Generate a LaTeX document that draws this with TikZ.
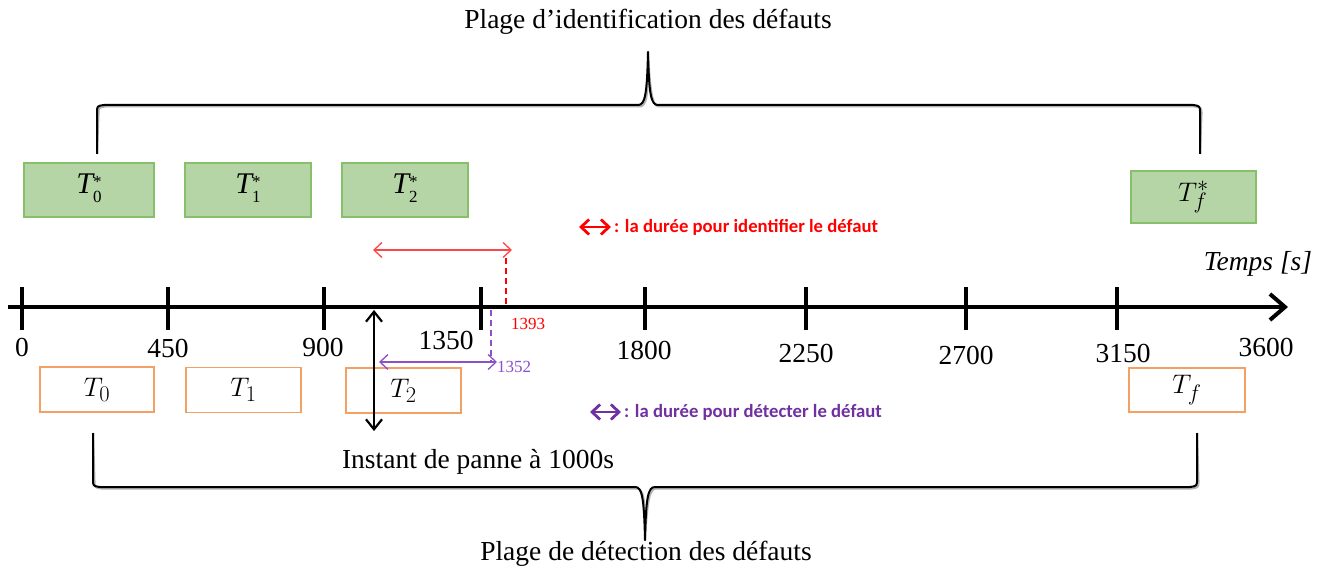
\documentclass[tikz,border=0pt]{standalone}
\usepackage{fontspec}
\setmainfont{Liberation Serif}
\newfontfamily\legendfont{Carlito}
\usetikzlibrary{arrows.meta}
\definecolor{gfill}{RGB}{181,213,166}
\definecolor{gbord}{RGB}{135,192,105}
\definecolor{obord}{RGB}{242,160,100}
\definecolor{redA}{RGB}{255,70,70}
\definecolor{redB}{RGB}{255,0,0}
\definecolor{purA}{RGB}{112,48,160}
\definecolor{purB}{RGB}{140,80,200}
\newcommand{\gstar}[1]{\itshape T\raisebox{-0.3em}{\upshape\fontsize{17}{13}\selectfont\begin{tabular}[b]{@{}l@{}}*\\#1\end{tabular}}}
\newcommand{\mth}[1]{\scalebox{1.08}{$#1$}}
\begin{document}
\begin{tikzpicture}[x=1pt,y=-1pt,
  greenbox/.style={draw=gbord,fill=gfill,line width=1.3pt,inner sep=0pt,
    font=\fontsize{30}{32}\selectfont},
  orangebox/.style={draw=obord,fill=white,line width=1.3pt,inner sep=0pt,
    font=\fontsize{24.88}{28}\selectfont},
  lbl/.style={inner sep=0pt,font=\fontsize{27.5}{30}\selectfont},
  small/.style={inner sep=0pt,font=\fontsize{17}{19}\selectfont},
  legend/.style={inner sep=0pt,anchor=west,font=\legendfont\bfseries\fontsize{18.7}{20}\selectfont},
  axisline/.style={line width=4pt,-{Straight Barb[length=15pt,width=26pt,line width=4pt]}},
  tickline/.style={line width=4pt},
  brace/.style={line width=2pt,line join=round},
  braceshadow/.style={line width=2pt,gray!60,line join=round},
  thinarrow/.style={line width=1.3pt,{Straight Barb[length=8pt,width=15pt]}-{Straight Barb[length=8pt,width=15pt]}},
  legarrow/.style={line width=2.8pt,{Straight Barb[length=8pt,width=15pt,line width=2.8pt]}-{Straight Barb[length=8pt,width=15pt,line width=2.8pt]}},
  dashline/.style={line width=2pt,dash pattern=on 6pt off 4pt}
]
\useasboundingbox (0,0) rectangle (1330,572);
\fill[white] (0,0) rectangle (1330,572);

% top brace
\coordinate (tbL) at (97,154);
\coordinate (tbR) at (1200,154);
\coordinate (tbT) at (648,52);
\foreach \d/\st in {1.5/braceshadow,0/brace}{
\draw[\st,shift={(\d,\d)}] (tbL) -- (97,113) .. controls (97,106) .. (104,105) -- (638,105)
  .. controls (645,105) and (647,95) .. (tbT)
  .. controls (649,95) and (651,105) .. (658,105) -- (1193,105)
  .. controls (1200,106) .. (1200,113) -- (tbR);
}
\node[lbl] (toptext) at (648,22) {Plage d’identification des défauts};

% bottom brace
\coordinate (bbL) at (93,433);
\coordinate (bbR) at (1197,433);
\coordinate (bbT) at (645,540);
\foreach \d/\st in {1.5/braceshadow,0/brace}{
\draw[\st,shift={(\d,\d)}] (bbL) -- (93,479) .. controls (93,486) .. (100,487) -- (635,487)
  .. controls (642,487) and (644,497) .. (bbT)
  .. controls (646,497) and (648,487) .. (655,487) -- (1190,487)
  .. controls (1197,486) .. (1197,479) -- (bbR);
}
\node[lbl] (bottext) at (646,554) {Plage de détection des défauts};

% green boxes
\node[greenbox,minimum width=130pt,minimum height=54pt] (g0) at (89,190) {\gstar{0}};
\node[greenbox,minimum width=126pt,minimum height=54pt] (g1) at (248,190) {\gstar{1}};
\node[greenbox,minimum width=126pt,minimum height=54pt] (g2) at (405,190) {\gstar{2}};
\node[greenbox,minimum width=125pt,minimum height=52pt,font=\fontsize{24.88}{28}\selectfont] (gf) at (1193.5,197) {\mth{T_f^*}};

% orange boxes
\node[orangebox,minimum width=114pt,minimum height=45pt] (o0) at (97,389.5) {\mth{T_0}};
\node[orangebox,minimum width=115pt,minimum height=45pt] (o1) at (243.5,390) {\mth{T_1}};
\node[orangebox,minimum width=115pt,minimum height=45pt] (o2) at (403.5,390.5) {\mth{T_2}};
\node[orangebox,minimum width=116pt,minimum height=44pt] (of) at (1187,390) {\mth{T_f}};

% axis
\coordinate (axS) at (8,307);
\coordinate (axE) at (1288,307);
\draw[axisline] (axS) -- (axE);
\foreach \x/\n in {22/t0,168/t1,324/t2,481/t3,645/t4,806/t5,966/t6,1117/t7}{
  \coordinate (\n a) at (\x,287);
  \coordinate (\n b) at (\x,330);
  \draw[tickline] (\n a) -- (\n b);
}
\node[lbl] (l0) at (22,347) {0};
\node[lbl] (l1) at (168,348) {450};
\node[lbl] (l2) at (323,347) {900};
\node[lbl] (l3) at (446,340) {1350};
\node[lbl] (l4) at (644,350) {1800};
\node[lbl] (l5) at (806,353) {2250};
\node[lbl] (l6) at (966,355) {2700};
\node[lbl] (l7) at (1123,353) {3150};
\node[lbl] (l8) at (1266,347) {3600};
\node[lbl,font=\itshape\fontsize{27.5}{30}\selectfont] (temps) at (1258,264) {Temps [s]};

% identification duration (red)
\coordinate (rA) at (373,250);
\coordinate (rB) at (512,250);
\draw[thinarrow,redA] (rA) -- (rB);
\coordinate (rdT) at (506,258);
\coordinate (rdB) at (506,307);
\draw[dashline,redB] (rdT) -- (rdB);
\node[small,text=redB] (n1393) at (528,324) {1393};

% detection duration (purple)
\coordinate (pdT) at (491,310);
\coordinate (pdB) at (491,361);
\draw[dashline,purB] (pdT) -- (pdB);
\coordinate (pA) at (379,362);
\coordinate (pB) at (497,362);
\draw[thinarrow,purB] (pA) -- (pB);
\node[small,text=purB] (n1352) at (514,367) {1352};

% fault instant
\coordinate (fA) at (374,310);
\coordinate (fB) at (374,431);
\draw[line width=2.5pt,gray!50,{Straight Barb[length=10pt,width=16pt]}-{Straight Barb[length=10pt,width=16pt]},shift={(3,2)}] (fA) -- (fB);
\draw[line width=2pt,{Straight Barb[length=10pt,width=16pt]}-{Straight Barb[length=10pt,width=16pt]}] (fA) -- (fB);
\node[lbl] (instant) at (478,462) {Instant de panne à 1000s};

% legends
\coordinate (lgRa) at (579,227);
\coordinate (lgRb) at (611,227);
\draw[legarrow,redB] (lgRa) -- (lgRb);
\node[legend,text=redB] (legR) at (614,227) {: la durée pour identifier le défaut};
\coordinate (lgPa) at (590,412);
\coordinate (lgPb) at (621,412);
\draw[legarrow,purA] (lgPa) -- (lgPb);
\node[legend,text=purA] (legP) at (624,412) {: la durée pour détecter le défaut};
\end{tikzpicture}
\end{document}
